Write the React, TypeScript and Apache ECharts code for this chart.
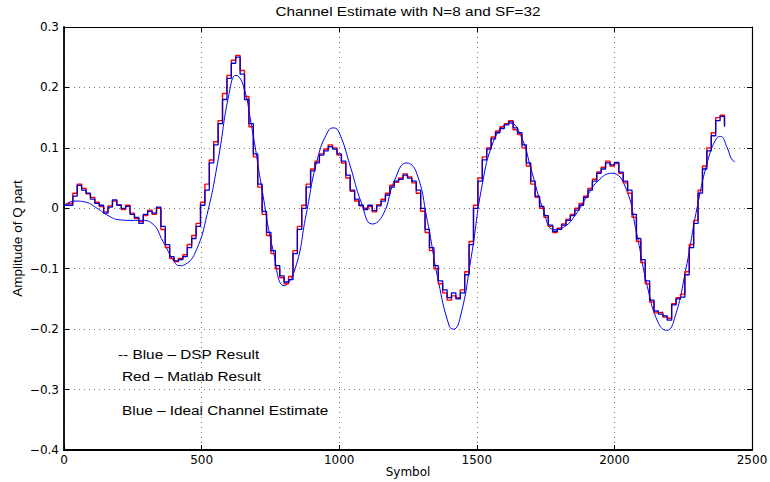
import React, { useEffect, useRef } from "react";
import * as echarts from "echarts";

const stepStart = 0;
const stepWidth = 16;

const dspValues = [
  0.005, 0.005, 0.02, 0.038, 0.03, 0.025, 0.015, 0.008, 0.005, -0.008,
  0.002, 0.014, 0.005, 0.0, 0.003, -0.01, -0.015, -0.025, -0.01, -0.005,
  -0.008, 0.002, -0.03, -0.06, -0.08, -0.087, -0.085, -0.08, -0.065, -0.05,
  -0.03, 0.005, 0.03, 0.075, 0.105, 0.14, 0.18, 0.215, 0.24, 0.25,
  0.222, 0.18, 0.14, 0.09, 0.04, -0.005, -0.04, -0.07, -0.095, -0.112,
  -0.122, -0.118, -0.075, -0.035, 0.0, 0.035, 0.062, 0.075, 0.088, 0.095,
  0.102, 0.098, 0.09, 0.078, 0.055, 0.03, 0.015, 0.005, -0.002, 0.005,
  -0.004, 0.004, 0.012, 0.022, 0.035, 0.045, 0.048, 0.055, 0.05, 0.045,
  0.03, 0.0, -0.035, -0.065, -0.095, -0.12, -0.135, -0.148, -0.14, -0.15,
  -0.14, -0.11, -0.06, 0.0, 0.045, 0.08, 0.098, 0.115, 0.125, 0.132,
  0.138, 0.143, 0.133, 0.125, 0.105, 0.075, 0.045, 0.02, 0.003, -0.012,
  -0.028, -0.038, -0.035, -0.028, -0.02, -0.012, -0.003, 0.005, 0.018, 0.03,
  0.045, 0.058, 0.065, 0.075, 0.072, 0.076, 0.06, 0.045, 0.03, -0.01,
  -0.05, -0.085, -0.12, -0.152, -0.17, -0.175, -0.178, -0.185, -0.16, -0.15,
  -0.147, -0.11, -0.065, -0.025, 0.025, 0.065, 0.095, 0.12, 0.145, 0.152,
  0.135,
];

const matlabValues = [
  0.005, 0.008, 0.025, 0.04, 0.033, 0.024, 0.018, 0.01, 0.003, -0.006,
  0.004, 0.012, 0.006, -0.002, 0.005, -0.008, -0.017, -0.022, -0.012, -0.003,
  -0.01, 0.0, -0.035, -0.065, -0.083, -0.088, -0.083, -0.077, -0.06, -0.045,
  -0.025, 0.01, 0.04, 0.08, 0.11, 0.145, 0.19, 0.22, 0.245, 0.253,
  0.228, 0.185, 0.135, 0.085, 0.035, -0.01, -0.045, -0.075, -0.1, -0.115,
  -0.125, -0.113, -0.07, -0.03, 0.005, 0.04, 0.065, 0.078, 0.09, 0.098,
  0.105, 0.1, 0.088, 0.075, 0.05, 0.028, 0.012, 0.004, 0.0, 0.003,
  -0.006, 0.006, 0.015, 0.025, 0.038, 0.043, 0.05, 0.057, 0.052, 0.042,
  0.025, -0.005, -0.04, -0.07, -0.1, -0.125, -0.14, -0.152, -0.145, -0.148,
  -0.135, -0.105, -0.055, 0.005, 0.05, 0.085, 0.1, 0.118, 0.128, 0.135,
  0.14, 0.145, 0.13, 0.122, 0.1, 0.07, 0.04, 0.018, 0.0, -0.015,
  -0.03, -0.04, -0.033, -0.026, -0.018, -0.01, 0.0, 0.008, 0.02, 0.033,
  0.048, 0.06, 0.068, 0.078, 0.07, 0.074, 0.058, 0.042, 0.025, -0.015,
  -0.055, -0.09, -0.125, -0.155, -0.173, -0.172, -0.18, -0.182, -0.158, -0.148,
  -0.142, -0.105, -0.06, -0.02, 0.03, 0.07, 0.1, 0.125, 0.15, 0.154,
  0.138,
];

const idealX = [
  0, 40, 80, 120, 160, 200, 240, 280, 320, 360, 400, 420, 440, 480, 520,
  560, 600, 625, 650, 680, 720, 760, 800, 840, 880, 920, 960, 980, 1000,
  1040, 1080, 1120, 1160, 1200, 1245, 1280, 1320, 1360, 1400, 1415, 1440,
  1480, 1520, 1560, 1600, 1620, 1660, 1700, 1740, 1780, 1820, 1860, 1900,
  1940, 1990, 2040, 2080, 2120, 2160, 2190, 2220, 2260, 2300, 2340, 2370,
  2385, 2410, 2425, 2438,
];
const idealY = [
  0.005, 0.012, 0.01, 0.0, -0.012, -0.019, -0.02, -0.02, -0.025, -0.055,
  -0.088, -0.095, -0.093, -0.07, -0.01, 0.08, 0.19, 0.22, 0.205, 0.14,
  0.03, -0.07, -0.128, -0.1, -0.01, 0.08, 0.128, 0.133, 0.125, 0.07, 0.01,
  -0.026, -0.01, 0.045, 0.075, 0.06, -0.02, -0.12, -0.195, -0.2, -0.18,
  -0.08, 0.04, 0.11, 0.138, 0.141, 0.12, 0.06, 0.0, -0.035, -0.03, -0.01,
  0.02, 0.045, 0.058, 0.035, -0.04, -0.13, -0.19, -0.202, -0.18, -0.1, 0.0,
  0.08, 0.115, 0.119, 0.1, 0.082, 0.077,
];

const titleText = "Channel Estimate with N=8 and SF=32";
const xName = "Symbol";
const yName = "Amplitude of Q part";
const notes = [
  "-- Blue \u2013 DSP Result",
  "Red \u2013 Matlab Result",
  "Blue \u2013 Ideal Channel Estimate",
];

const FONT = "'Liberation Sans', Arial, Helvetica, sans-serif";
const WIDE = "'DejaVu Sans', 'Liberation Sans', sans-serif";

function fmtY(v: number): string {
  const r = Math.round(v * 10) / 10;
  if (r === 0) return "0";
  return (r < 0 ? "\u2212" : "") + Math.abs(r).toFixed(1);
}

function fmtX(v: number): string {
  return String(Math.round(v));
}

export default function App() {
  const ref = useRef<HTMLDivElement>(null);
  useEffect(() => {
    document.body.style.margin = "0";
    if (!ref.current) return;
    const chart = echarts.init(ref.current, null, { renderer: "svg" });
    const dspData = dspValues.map((v, i) => [stepStart + i * stepWidth, v]);
    const matData = matlabValues.map((v, i) => [stepStart + i * stepWidth, v]);
    const idealData = idealX.map((x, i) => [x, idealY[i]]);
    const mainLine = { show: true, onZero: false, lineStyle: { color: "#000", width: 1.8 } };
    const sideLine = { show: true, onZero: false, lineStyle: { color: "#000", width: 1.2 } };
    const tick = { show: true, inside: true, length: 5, lineStyle: { color: "#000", width: 1 } };
    const grid = { show: true, lineStyle: { color: "#777", type: [1, 4], width: 1 } };
    const labelStyle = { color: "#000", fontSize: 12, fontFamily: WIDE };
    const textStyle = (t: string, x: number, y: number, align: string) => ({
      type: "text",
      x,
      y,
      scaleX: 1.28,
      style: { text: t, font: `12px ${FONT}`, fill: "#000", align, verticalAlign: "middle" },
    });
    chart.setOption({
      animation: false,
      backgroundColor: "#fff",
      grid: { left: 64, right: 18, top: 27, bottom: 32, containLabel: false, outerBoundsMode: "none" },
      xAxis: [
        {
          type: "value", min: 0, max: 2500, interval: 500, position: "bottom",
          axisLine: mainLine, axisTick: tick, splitLine: grid,
          axisLabel: { ...labelStyle, margin: 4, formatter: fmtX },
          name: xName, nameLocation: "middle", nameGap: 16, nameMoveOverlap: false,
          nameTextStyle: { color: "#000", fontSize: 12, fontFamily: WIDE },
        },
        {
          type: "value", min: 0, max: 2500, interval: 500, position: "top",
          axisLine: sideLine, axisTick: tick, splitLine: { show: false }, axisLabel: { show: false },
        },
      ],
      yAxis: [
        {
          type: "value", min: -0.4, max: 0.3, interval: 0.1, position: "left",
          axisLine: mainLine, axisTick: tick, splitLine: grid,
          axisLabel: { ...labelStyle, margin: 5, formatter: fmtY },
          name: yName, nameLocation: "middle", nameGap: 40, nameRotate: 90, nameMoveOverlap: false,
          nameTextStyle: { color: "#000", fontSize: 13.5, fontFamily: FONT },
        },
        {
          type: "value", min: -0.4, max: 0.3, interval: 0.1, position: "right",
          axisLine: sideLine, axisTick: tick, splitLine: { show: false }, axisLabel: { show: false },
        },
      ],
      series: [
        {
          type: "line", name: "Ideal", data: idealData, smooth: 0.5, showSymbol: false,
          lineStyle: { color: "#0000ff", width: 1 }, z: 2,
        },
        {
          type: "line", name: "Matlab", data: matData, step: "end", showSymbol: false,
          lineStyle: { color: "#ff0000", width: 1.4 }, z: 3,
        },
        {
          type: "line", name: "DSP", data: dspData, step: "end", showSymbol: false,
          lineStyle: { color: "#0000d0", width: 1.3 }, z: 4,
        },
      ],
      graphic: [
        textStyle(titleText, 408, 12, "center"),
        textStyle(notes[0], 118, 355, "left"),
        textStyle(notes[1], 122, 377, "left"),
        textStyle(notes[2], 122, 411, "left"),
      ],
    });
    return () => chart.dispose();
  }, []);
  return <div ref={ref} style={{ width: 770, height: 482 }} />;
}
